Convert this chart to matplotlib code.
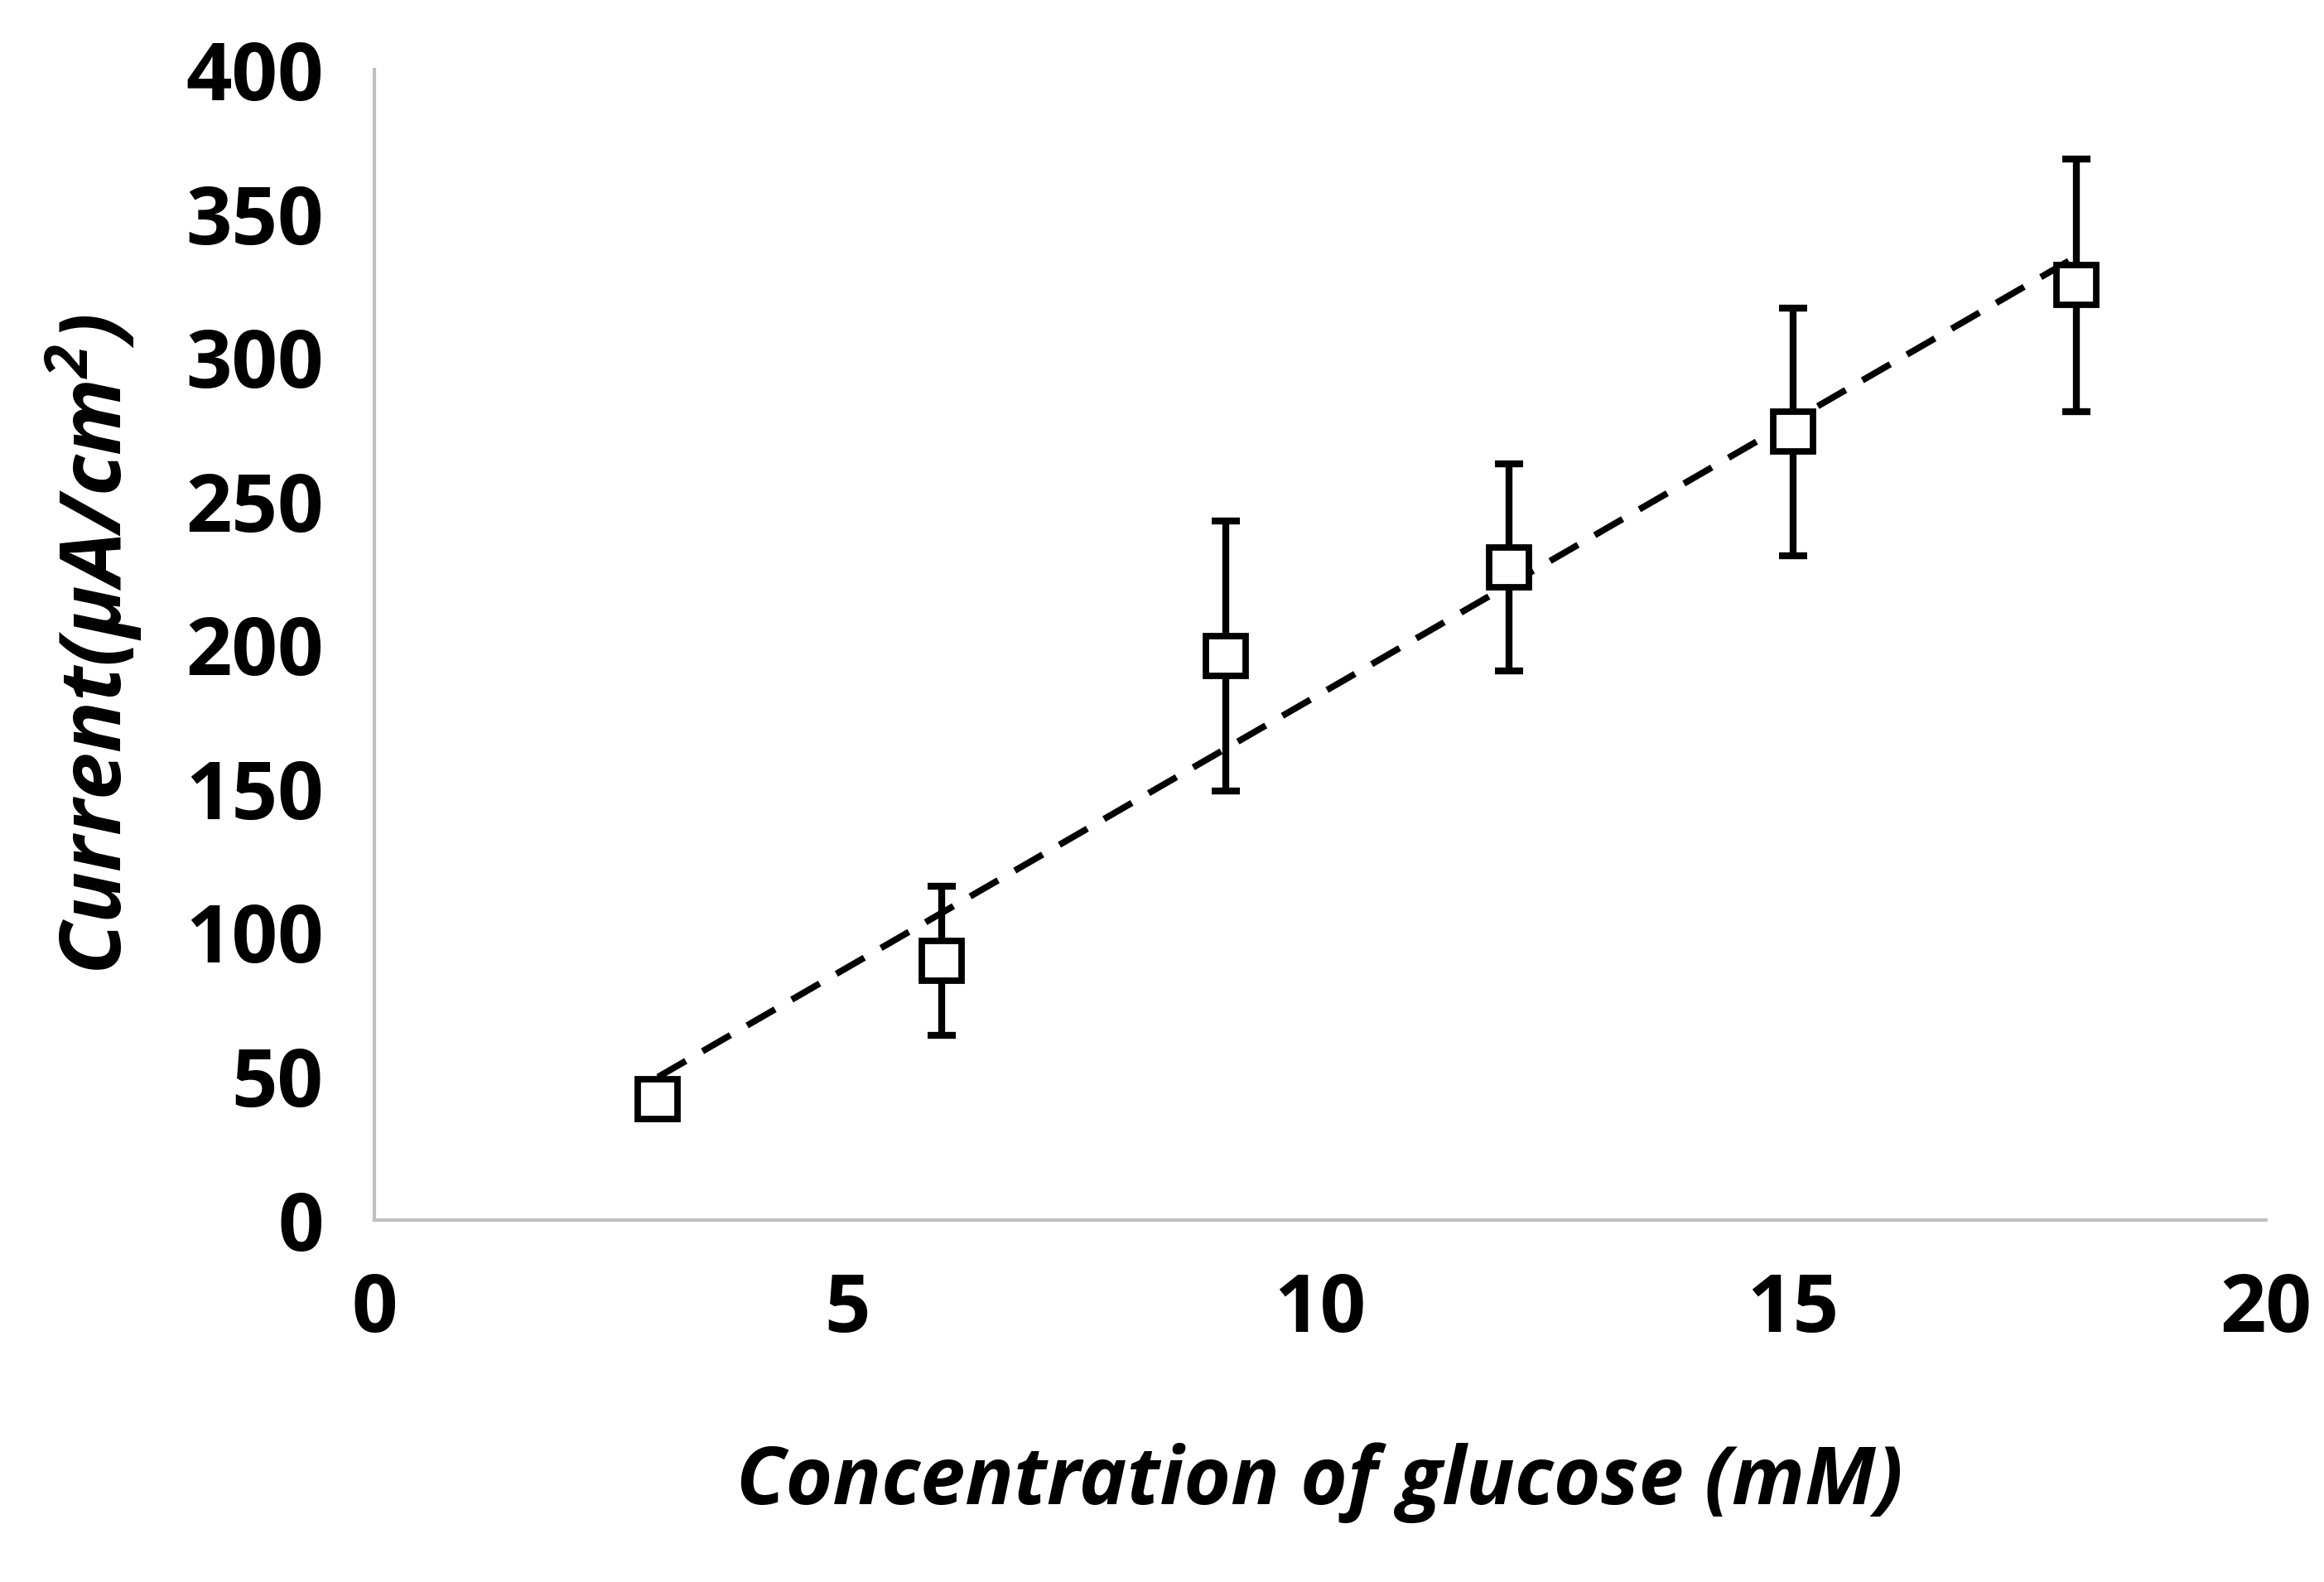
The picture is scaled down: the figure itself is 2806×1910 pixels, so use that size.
import matplotlib

matplotlib.use("Agg")
import matplotlib.pyplot as plt
import numpy as np

# data
conc = [3, 6, 9, 12, 15, 18]
current = [42, 90, 196, 227, 274, 325]
err = [4, 26, 47, 36, 43, 44]
x_ticks = [0, 5, 10, 15, 20]
y_ticks = [0, 50, 100, 150, 200, 250, 300, 350, 400]

plt.rcParams["mathtext.fontset"] = "custom"
plt.rcParams["mathtext.rm"] = "Open Sans:italic:bold"
plt.rcParams["mathtext.it"] = "Open Sans:italic:bold"

fig = plt.figure(figsize=(14.03, 9.55), dpi=200)
ax = fig.add_axes([0.161, 0.229, 0.814, 0.727])

ax.errorbar(conc, current, yerr=err, fmt="none", ecolor="black",
            elinewidth=3, capsize=6, capthick=3, zorder=2)
ax.plot(conc, current, "s", ms=17, mfc="white", mec="black", mew=2.8, zorder=3)

slope, icpt = np.polyfit(conc, current, 1)
xf = np.array([conc[0], conc[-1]])
ax.plot(xf, slope * xf + icpt, "--", color="black", lw=2.8, dashes=(5, 3), zorder=1)

ax.set_xlim(0, 20)
ax.set_ylim(0, 400)
ax.set_xticks(x_ticks)
ax.set_yticks(y_ticks)
for s in ["top", "right"]:
    ax.spines[s].set_visible(False)
for s in ["left", "bottom"]:
    ax.spines[s].set_color("#c0c0c0")
    ax.spines[s].set_linewidth(1.5)
ax.tick_params(length=0, pad=22, labelsize=35)
for lab in ax.get_xticklabels() + ax.get_yticklabels():
    lab.set_fontfamily("Open Sans")
    lab.set_fontweight("bold")

ax.set_xlabel("Concentration of glucose (mM)", fontsize=35, fontstyle="italic",
              fontweight="bold", family="Open Sans", labelpad=40)
ax.set_ylabel(r"Current($\mu$A/cm$^2$)", fontsize=37, fontstyle="italic",
              fontweight="bold", family="Open Sans", labelpad=18)

fig.savefig("out.png", dpi=200, facecolor="white")
